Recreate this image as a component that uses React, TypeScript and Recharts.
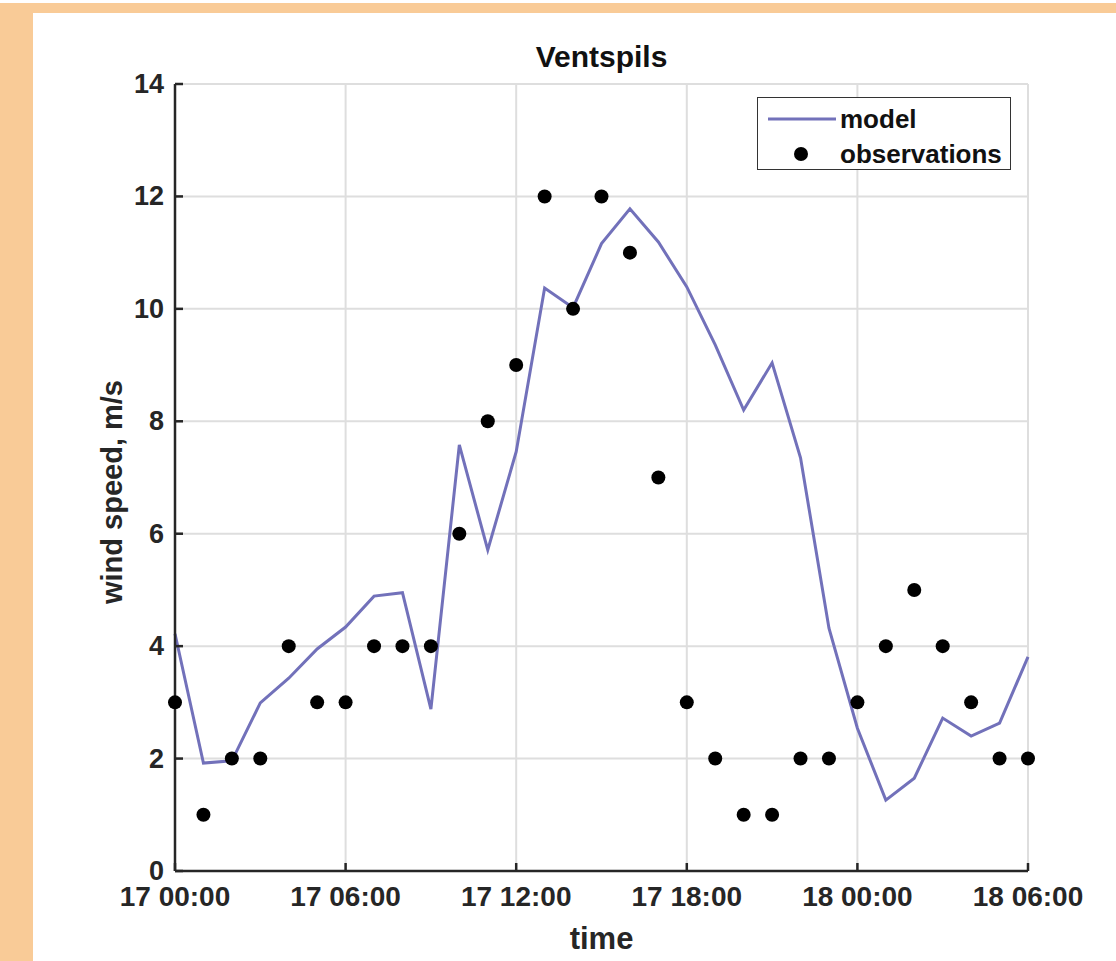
import React from 'react';
import { ComposedChart, Line, Scatter, XAxis, YAxis, CartesianGrid, Legend } from 'recharts';

const hours = [0,1,2,3,4,5,6,7,8,9,10,11,12,13,14,15,16,17,18,19,20,21,22,23,24,25,26,27,28,29,30];
const model = [4.22,1.92,1.96,2.99,3.43,3.95,4.34,4.89,4.95,2.88,7.58,5.71,7.46,10.37,10.02,11.16,11.78,11.19,10.39,9.36,8.2,9.04,7.35,4.32,2.54,1.26,1.65,2.72,2.4,2.63,3.81];
const observations = [3,1,2,2,4,3,3,4,4,4,6,8,9,12,10,12,11,7,3,2,1,1,2,2,3,4,5,4,3,2,2];
const xTicks = [0,6,12,18,24,30];
const xTickLabels = ['17 00:00','17 06:00','17 12:00','17 18:00','18 00:00','18 06:00'];
const yTicks = [0,2,4,6,8,10,12,14];

const data = hours.map((h, i) => ({ h, model: model[i], obs: observations[i] }));

const FONT = '"Liberation Sans", Arial, Helvetica, sans-serif';
const AXIS = '#262626';
const LINE = '#7271BA';

const XTick = (props: any) => {
  const { x, y, payload } = props;
  const idx = xTicks.indexOf(payload.value);
  return (
    <g>
      <line x1={x} y1={y} x2={x} y2={y - 8} stroke={AXIS} strokeWidth={2.5} />
      <text x={x} y={y + 35} textAnchor="middle" fontFamily={FONT} fontWeight="bold" fontSize={28} fill={AXIS}>
        {idx >= 0 ? xTickLabels[idx] : ''}
      </text>
    </g>
  );
};

const YTick = (props: any) => {
  const { x, y, payload } = props;
  return (
    <g>
      <line x1={x} y1={y} x2={x + 8} y2={y} stroke={AXIS} strokeWidth={2.5} />
      <text x={x - 11} y={y + 9} textAnchor="end" fontFamily={FONT} fontWeight="bold" fontSize={27} fill={AXIS}>
        {payload.value}
      </text>
    </g>
  );
};

const LegendBox = () => (
  <div style={{
    position: 'absolute', left: 757, top: 97, width: 254, height: 73,
    border: '1.5px solid #333', background: '#fff', boxSizing: 'border-box',
    fontFamily: FONT, fontWeight: 'bold', fontSize: 26, color: '#111'
  }}>
    <svg width={254} height={73} style={{ position: 'absolute', left: 0, top: 0 }}>
      <line x1={10} y1={21} x2={78} y2={21} stroke={LINE} strokeWidth={3} />
      <circle cx={43} cy={56} r={7} fill="#000" />
      <text x={82} y={30} fontFamily={FONT} fontWeight="bold" fontSize={26} fill="#111">model</text>
      <text x={82} y={65} fontFamily={FONT} fontWeight="bold" fontSize={26} fill="#111">observations</text>
    </svg>
  </div>
);

export default function App() {
  return (
    <div style={{ position: 'absolute', left: 0, top: 0, width: 1116, height: 961, background: '#fff', overflow: 'hidden' }}>
      <div style={{ position: 'absolute', left: 0, top: 3, width: 1116, height: 958, background: '#F9CB97' }} />
      <div style={{ position: 'absolute', left: 33, top: 13, width: 1083, height: 948, background: '#fff' }} />
      <div style={{ position: 'absolute', left: 0, top: 0 }}>
        <ComposedChart width={1116} height={961} data={data} margin={{ top: 84, right: 88, bottom: 50, left: 115 }}>
          <CartesianGrid stroke="#dedede" strokeWidth={2} horizontalValues={yTicks} verticalValues={xTicks} />
          <XAxis dataKey="h" type="number" domain={[0, 30]} ticks={xTicks} height={40}
            axisLine={{ stroke: AXIS, strokeWidth: 2.5 }} tickLine={false} tickSize={0} tickMargin={0}
            tick={<XTick />} interval={0} />
          <YAxis type="number" domain={[0, 14]} ticks={yTicks} width={60}
            axisLine={{ stroke: AXIS, strokeWidth: 2.5 }} tickLine={false} tickSize={0} tickMargin={0}
            tick={<YTick />} interval={0} />
          <Line dataKey="model" type="linear" stroke={LINE} strokeWidth={3} dot={false} isAnimationActive={false} />
          <Scatter dataKey="obs" fill="#000" isAnimationActive={false}
            shape={(p: any) => <circle cx={p.cx} cy={p.cy} r={7} fill="#000" />} />
          <Legend content={() => null} />
        </ComposedChart>
      </div>
      <LegendBox />
      <div style={{ position: 'absolute', left: 175, width: 853, top: 40, textAlign: 'center', fontFamily: FONT, fontWeight: 'bold', fontSize: 30, color: '#111' }}>Ventspils</div>
      <div style={{ position: 'absolute', left: 175, width: 853, top: 921, textAlign: 'center', fontFamily: FONT, fontWeight: 'bold', fontSize: 31, color: AXIS }}>time</div>
      <div style={{ position: 'absolute', left: 112 - 200, top: 492 - 18, width: 400, height: 36, lineHeight: '36px', textAlign: 'center', transform: 'rotate(-90deg)', fontFamily: FONT, fontWeight: 'bold', fontSize: 29, color: AXIS }}>wind speed, m/s</div>
    </div>
  );
}
